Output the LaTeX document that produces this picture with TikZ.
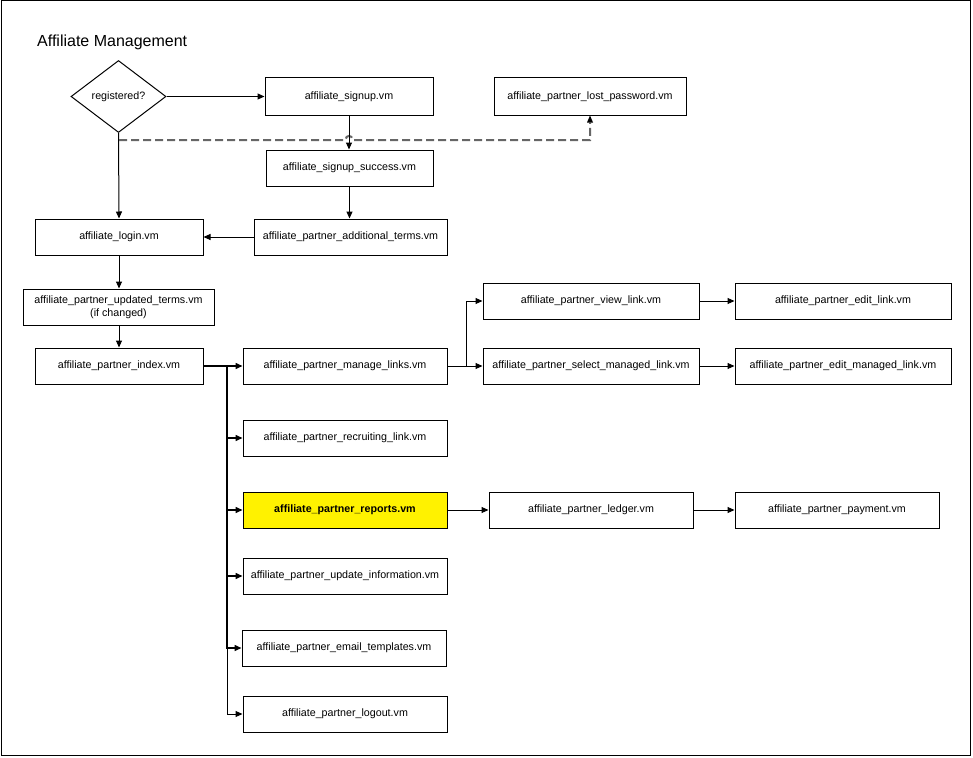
\documentclass[tikz,border=0pt]{standalone}
\usepackage{fontspec}
\setmainfont{Liberation Sans}
\usetikzlibrary{shapes.geometric,arrows.meta}
\begin{document}
\begin{tikzpicture}[x=1pt,y=-1pt,
  every node/.style={font=\fontsize{10.7}{12.6}\selectfont, inner sep=0pt},
  pbox/.style={draw=black, line width=1pt, rectangle, fill=white, minimum height=36pt, align=center},
  arr/.style={draw=black, line width=1pt, -{Triangle[length=7pt,width=6pt]}},
  trk/.style={arr, line width=1.5pt},
  dsh/.style={draw=black!60, line width=2pt, dash pattern=on 8pt off 4pt, -{Triangle[length=7pt,width=6pt,color=black,fill=black,line width=0pt]}}
]
\useasboundingbox (0,0) rectangle (973,757);
\draw[line width=1pt] (1,1) rectangle (970,755);

\node[anchor=west, font=\fontsize{16}{19}\selectfont] (title) at (37,42) {Affiliate Management};

\node[draw=black, line width=1pt, diamond, minimum width=95pt, minimum height=72pt, aspect=1.32] (reg) at (118.5,96.5) {registered?};

\node[pbox, minimum width=168pt, minimum height=37pt] (signup) at (349,96.5) {affiliate\_signup.vm};
\node[pbox, minimum width=192pt, minimum height=37pt] (lost) at (590,96.5) {affiliate\_partner\_lost\_password.vm};
\node[pbox, minimum width=167pt] (success) at (349.5,168) {affiliate\_signup\_success.vm};
\node[pbox, minimum width=193pt] (addl) at (350.5,237) {affiliate\_partner\_additional\_terms.vm};
\node[pbox, minimum width=168pt] (login) at (119,237) {affiliate\_login.vm};
\node[pbox, minimum width=191pt] (updated) at (118.5,307) {affiliate\_partner\_updated\_terms.vm\\(if changed)};
\node[pbox, minimum width=168pt] (index) at (119,366) {affiliate\_partner\_index.vm};
\node[pbox, minimum width=204pt] (manage) at (345,366) {affiliate\_partner\_manage\_links.vm};
\node[pbox, minimum width=216pt] (view) at (591,301) {affiliate\_partner\_view\_link.vm};
\node[pbox, minimum width=216pt] (edit) at (843,301) {affiliate\_partner\_edit\_link.vm};
\node[pbox, minimum width=216pt] (select) at (591,366) {affiliate\_partner\_select\_managed\_link.vm};
\node[pbox, minimum width=216pt] (editm) at (843,366) {affiliate\_partner\_edit\_managed\_link.vm};
\node[pbox, minimum width=204pt] (recruit) at (345,438) {affiliate\_partner\_recruiting\_link.vm};
\node[pbox, minimum width=204pt, fill=yellow, font=\fontsize{10.7}{12.6}\selectfont\bfseries] (reports) at (345,510) {affiliate\_partner\_reports.vm};
\node[pbox, minimum width=204pt] (ledger) at (591,510) {affiliate\_partner\_ledger.vm};
\node[pbox, minimum width=204pt] (payment) at (837,510) {affiliate\_partner\_payment.vm};
\node[pbox, minimum width=204pt] (update) at (345,576) {affiliate\_partner\_update\_information.vm};
\node[pbox, minimum width=204pt] (email) at (344,648) {affiliate\_partner\_email\_templates.vm};
\node[pbox, minimum width=204pt] (logout) at (345,714) {affiliate\_partner\_logout.vm};

% connectors
\draw[arr] (reg.east) -- (signup.west);
\draw[arr] (reg.south) -- (login.north);
\coordinate (dstart) at (119,140);
\draw[dsh] (dstart) -- (345.5,140) .. controls (345.5,134.5) and (352.5,134.5) .. (352.5,140) -| (lost.south);
\draw[arr] (signup.south) -- (signup.south |- success.north);
\draw[arr] (success.south) -- (success.south |- addl.north);
\draw[arr] (addl.west) -- (login.east);
\draw[arr] (login.south) -- (login.south |- updated.north);
\draw[arr] (updated.south -| index.north) -- (index.north);

\coordinate (trunk) at (227,366);
\draw[trk] (index.east) -- (manage.west);
\draw[trk] (index.east) -- (trunk) |- (recruit.west);
\draw[trk] (index.east) -- (trunk) |- (reports.west);
\draw[trk] (index.east) -- (trunk) |- (update.west);
\draw[trk] (index.east) -- (trunk) |- (email.west);
\draw[arr] (index.east) -- (trunk) |- (logout.west);

\coordinate (mbr) at (466,366);
\draw[arr] (manage.east) -- (mbr) |- (view.west);
\draw[arr] (manage.east) -- (select.west);
\draw[arr] (view.east) -- (edit.west);
\draw[arr] (select.east) -- (editm.west);
\draw[arr] (reports.east) -- (ledger.west);
\draw[arr] (ledger.east) -- (payment.west);
\end{tikzpicture}
\end{document}
